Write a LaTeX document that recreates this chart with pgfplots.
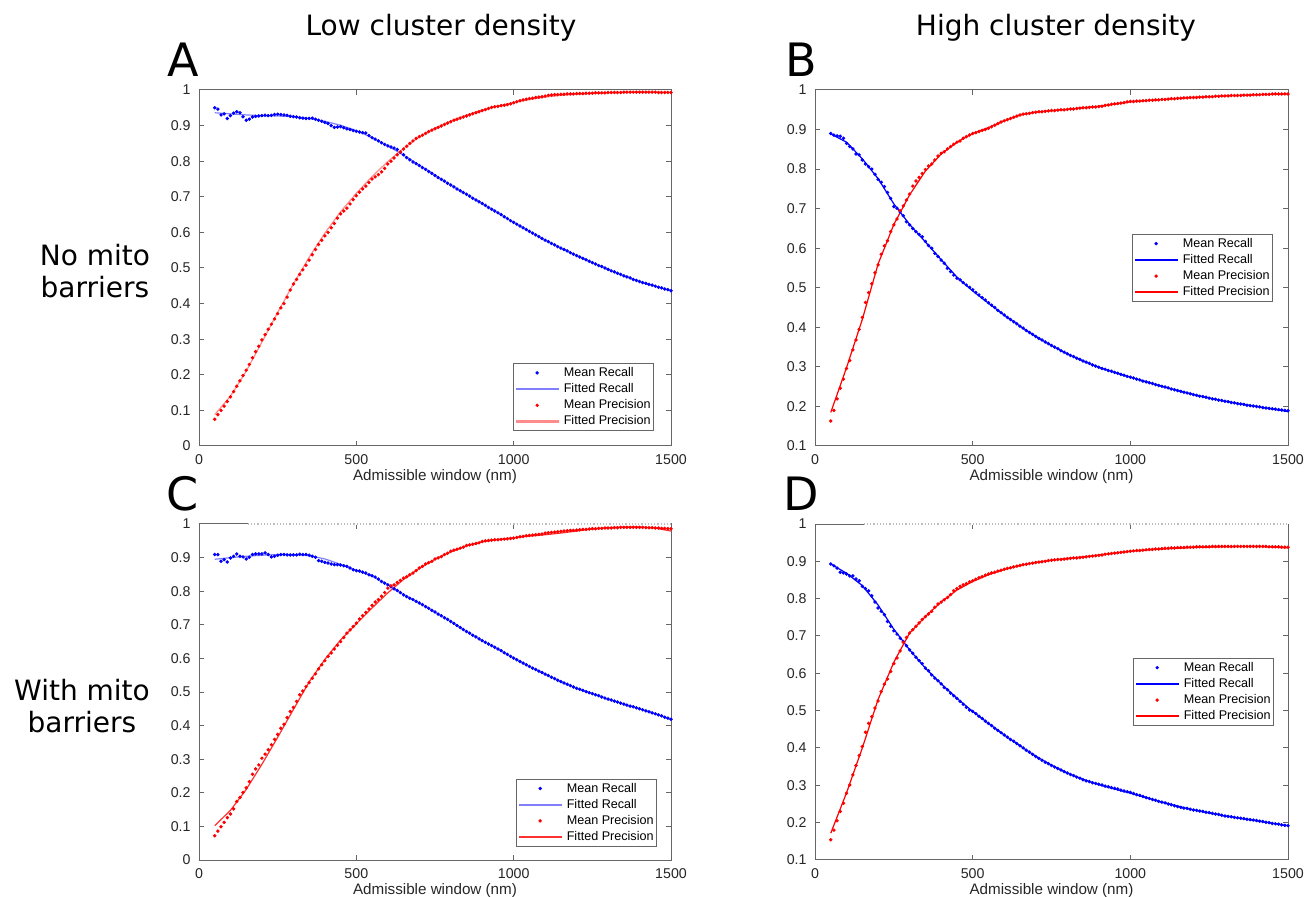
\documentclass[border=0pt]{standalone}
\usepackage{fontspec}
\setmainfont{Liberation Sans}
\newfontfamily\dejavu{DejaVu Sans}
\usepackage{pgfplots}
\usepackage{pgfplotstable}
\pgfplotsset{compat=1.18}

\definecolor{fitblue}{RGB}{0,0,255}
\definecolor{fitred}{RGB}{255,0,0}
\definecolor{liteblue}{RGB}{128,128,255}
\definecolor{litered}{RGB}{255,140,140}
\definecolor{midred}{RGB}{255,50,50}

% panel A: low density, no barriers
\pgfplotstableread{
x rm pm
50 0.950 0.075
60 0.946 0.088
70 0.930 0.100
80 0.933 0.112
90 0.920 0.125
100 0.928 0.138
110 0.935 0.153
120 0.939 0.168
130 0.936 0.183
140 0.925 0.198
150 0.915 0.213
160 0.918 0.229
170 0.924 0.248
180 0.926 0.265
190 0.927 0.280
200 0.928 0.298
210 0.929 0.313
220 0.928 0.328
230 0.929 0.342
240 0.931 0.357
250 0.932 0.372
260 0.931 0.388
270 0.930 0.400
280 0.929 0.418
290 0.926 0.438
300 0.925 0.455
310 0.924 0.468
320 0.922 0.482
330 0.921 0.495
340 0.920 0.508
350 0.920 0.522
360 0.921 0.537
370 0.918 0.552
380 0.915 0.566
390 0.912 0.578
400 0.909 0.590
410 0.906 0.600
420 0.900 0.613
430 0.895 0.625
440 0.896 0.640
450 0.897 0.652
460 0.894 0.660
470 0.891 0.668
480 0.889 0.680
490 0.886 0.692
500 0.884 0.703
510 0.882 0.713
520 0.880 0.722
530 0.879 0.730
540 0.872 0.740
550 0.866 0.750
560 0.862 0.756
570 0.857 0.762
580 0.852 0.770
590 0.847 0.780
600 0.843 0.792
610 0.840 0.800
620 0.837 0.809
630 0.833 0.818
640 0.825 0.826
650 0.818 0.834
660 0.810 0.842
670 0.804 0.850
680 0.798 0.857
690 0.793 0.864
700 0.788 0.869
710 0.782 0.873
720 0.777 0.878
730 0.771 0.883
740 0.766 0.887
750 0.760 0.891
760 0.754 0.895
770 0.749 0.899
780 0.744 0.903
790 0.738 0.907
800 0.733 0.911
810 0.728 0.915
820 0.722 0.918
830 0.717 0.921
840 0.712 0.924
850 0.707 0.927
860 0.702 0.930
870 0.696 0.933
880 0.691 0.936
890 0.686 0.939
900 0.681 0.942
910 0.676 0.945
920 0.670 0.948
930 0.665 0.951
940 0.660 0.953
950 0.655 0.954
960 0.650 0.956
970 0.644 0.957
980 0.639 0.959
990 0.633 0.961
1000 0.628 0.964
1010 0.623 0.967
1020 0.618 0.970
1030 0.613 0.972
1040 0.608 0.974
1050 0.603 0.976
1060 0.598 0.977
1070 0.593 0.979
1080 0.588 0.980
1090 0.583 0.981
1100 0.578 0.983
1110 0.574 0.985
1120 0.569 0.986
1130 0.565 0.987
1140 0.560 0.987
1150 0.556 0.988
1160 0.552 0.988
1170 0.548 0.989
1180 0.543 0.989
1190 0.539 0.989
1200 0.535 0.990
1210 0.531 0.990
1220 0.527 0.990
1230 0.523 0.991
1240 0.519 0.991
1250 0.515 0.991
1260 0.511 0.992
1270 0.507 0.992
1280 0.504 0.992
1290 0.500 0.992
1300 0.496 0.993
1310 0.492 0.993
1320 0.489 0.993
1330 0.485 0.993
1340 0.482 0.993
1350 0.478 0.994
1360 0.475 0.994
1370 0.472 0.994
1380 0.468 0.994
1390 0.465 0.994
1400 0.462 0.994
1410 0.459 0.994
1420 0.457 0.994
1430 0.454 0.994
1440 0.452 0.994
1450 0.449 0.994
1460 0.446 0.993
1470 0.444 0.993
1480 0.441 0.993
1490 0.439 0.993
1500 0.436 0.993
}\Atab
\pgfplotstableread{
x rf pf
50 0.936 0.088
100 0.933 0.140
150 0.930 0.210
200 0.928 0.292
250 0.927 0.375
300 0.925 0.455
350 0.920 0.530
400 0.912 0.598
450 0.901 0.658
500 0.886 0.710
550 0.866 0.757
600 0.843 0.799
650 0.817 0.836
700 0.789 0.868
750 0.761 0.893
800 0.733 0.913
850 0.707 0.930
900 0.681 0.944
950 0.655 0.955
1000 0.628 0.965
1050 0.603 0.973
1100 0.578 0.980
1150 0.556 0.985
1200 0.535 0.988
1250 0.515 0.990
1300 0.496 0.992
1350 0.478 0.993
1400 0.462 0.994
1450 0.449 0.994
1500 0.436 0.994
}\Afit

% panel B: high density, no barriers
\pgfplotstableread{
x rm pm
50 0.890 0.163
60 0.886 0.190
70 0.884 0.219
80 0.883 0.246
90 0.878 0.269
100 0.865 0.296
110 0.857 0.316
120 0.851 0.343
130 0.838 0.368
140 0.836 0.395
150 0.823 0.425
160 0.813 0.463
170 0.806 0.488
180 0.800 0.510
190 0.787 0.538
200 0.774 0.558
210 0.767 0.585
220 0.756 0.606
230 0.741 0.619
240 0.726 0.642
250 0.705 0.659
260 0.701 0.674
270 0.692 0.695
280 0.682 0.707
290 0.667 0.722
300 0.659 0.737
310 0.650 0.757
320 0.642 0.770
330 0.635 0.779
340 0.629 0.789
350 0.617 0.799
360 0.607 0.808
370 0.600 0.813
380 0.587 0.823
390 0.579 0.833
400 0.570 0.840
410 0.562 0.844
420 0.549 0.851
430 0.541 0.857
440 0.532 0.863
450 0.524 0.868
460 0.520 0.871
470 0.513 0.878
480 0.507 0.882
490 0.501 0.886
500 0.495 0.890
510 0.488 0.892
520 0.482 0.895
530 0.475 0.898
540 0.469 0.900
550 0.462 0.903
560 0.456 0.907
570 0.450 0.911
580 0.443 0.915
590 0.437 0.919
600 0.431 0.922
610 0.425 0.925
620 0.420 0.928
630 0.414 0.931
640 0.409 0.934
650 0.403 0.937
660 0.398 0.939
670 0.392 0.940
680 0.387 0.941
690 0.382 0.943
700 0.377 0.944
710 0.372 0.945
720 0.368 0.945
730 0.363 0.946
740 0.359 0.947
750 0.354 0.948
760 0.350 0.948
770 0.346 0.949
780 0.341 0.950
790 0.337 0.950
800 0.333 0.951
810 0.329 0.952
820 0.326 0.952
830 0.322 0.953
840 0.319 0.954
850 0.315 0.955
860 0.312 0.955
870 0.309 0.956
880 0.305 0.957
890 0.302 0.957
900 0.299 0.958
910 0.296 0.959
920 0.294 0.961
930 0.291 0.962
940 0.289 0.964
950 0.286 0.965
960 0.284 0.966
970 0.281 0.967
980 0.279 0.968
990 0.276 0.970
1000 0.274 0.971
1010 0.272 0.971
1020 0.269 0.972
1030 0.267 0.972
1040 0.264 0.973
1050 0.262 0.973
1060 0.260 0.974
1070 0.258 0.974
1080 0.255 0.975
1090 0.253 0.975
1100 0.251 0.976
1110 0.249 0.976
1120 0.247 0.977
1130 0.244 0.978
1140 0.242 0.978
1150 0.240 0.979
1160 0.238 0.979
1170 0.236 0.980
1180 0.234 0.980
1190 0.232 0.981
1200 0.230 0.981
1210 0.228 0.981
1220 0.226 0.982
1230 0.225 0.982
1240 0.223 0.983
1250 0.221 0.983
1260 0.219 0.983
1270 0.218 0.984
1280 0.216 0.984
1290 0.215 0.985
1300 0.213 0.985
1310 0.212 0.985
1320 0.210 0.986
1330 0.209 0.986
1340 0.207 0.986
1350 0.206 0.986
1360 0.205 0.987
1370 0.203 0.987
1380 0.202 0.987
1390 0.201 0.988
1400 0.200 0.988
1410 0.199 0.988
1420 0.197 0.989
1430 0.196 0.989
1440 0.195 0.989
1450 0.194 0.990
1460 0.193 0.990
1470 0.192 0.990
1480 0.191 0.990
1490 0.190 0.990
1500 0.189 0.990
}\Btab
\pgfplotstableread{
x rf pf
50 0.889 0.185
100 0.868 0.298
150 0.826 0.420
200 0.776 0.560
250 0.712 0.660
300 0.660 0.735
350 0.616 0.795
400 0.571 0.838
450 0.527 0.868
500 0.492 0.890
550 0.461 0.905
600 0.431 0.922
650 0.403 0.937
700 0.377 0.944
750 0.354 0.948
800 0.333 0.951
850 0.315 0.955
900 0.299 0.959
950 0.286 0.964
1000 0.274 0.970
1100 0.251 0.976
1200 0.230 0.981
1300 0.213 0.985
1400 0.200 0.988
1500 0.187 0.990
}\Bfit

% panel C: low density, with barriers
\pgfplotstableread{
x rm pm
50 0.909 0.072
60 0.909 0.086
70 0.889 0.099
80 0.894 0.112
90 0.887 0.126
100 0.899 0.137
110 0.904 0.152
120 0.911 0.174
130 0.904 0.186
140 0.902 0.201
150 0.896 0.215
160 0.901 0.233
170 0.909 0.255
180 0.911 0.271
190 0.911 0.283
200 0.911 0.303
210 0.914 0.315
220 0.909 0.328
230 0.902 0.343
240 0.904 0.359
250 0.907 0.374
260 0.909 0.392
270 0.909 0.404
280 0.908 0.424
290 0.908 0.442
300 0.908 0.454
310 0.908 0.472
320 0.910 0.492
330 0.909 0.503
340 0.909 0.516
350 0.907 0.528
360 0.904 0.541
370 0.901 0.554
380 0.891 0.569
390 0.889 0.581
400 0.886 0.593
410 0.884 0.606
420 0.881 0.616
430 0.879 0.628
440 0.879 0.639
450 0.878 0.650
460 0.876 0.662
470 0.874 0.675
480 0.869 0.685
490 0.864 0.695
500 0.861 0.705
510 0.860 0.717
520 0.857 0.727
530 0.854 0.737
540 0.849 0.747
550 0.846 0.758
560 0.842 0.768
570 0.836 0.775
580 0.829 0.785
590 0.824 0.796
600 0.819 0.809
610 0.813 0.816
620 0.807 0.819
630 0.802 0.826
640 0.796 0.832
650 0.789 0.839
660 0.784 0.843
670 0.779 0.849
680 0.775 0.854
690 0.770 0.861
700 0.765 0.869
710 0.760 0.874
720 0.754 0.881
730 0.749 0.885
740 0.743 0.889
750 0.738 0.896
760 0.732 0.899
770 0.727 0.903
780 0.721 0.909
790 0.716 0.913
800 0.710 0.919
810 0.704 0.922
820 0.698 0.925
830 0.692 0.928
840 0.686 0.931
850 0.680 0.936
860 0.675 0.938
870 0.669 0.940
880 0.664 0.942
890 0.658 0.944
900 0.653 0.948
910 0.648 0.950
920 0.643 0.951
930 0.638 0.952
940 0.633 0.953
950 0.628 0.953
960 0.623 0.954
970 0.617 0.955
980 0.612 0.956
990 0.606 0.957
1000 0.601 0.958
1010 0.596 0.960
1020 0.591 0.962
1030 0.586 0.963
1040 0.581 0.965
1050 0.576 0.966
1060 0.571 0.967
1070 0.567 0.968
1080 0.562 0.969
1090 0.558 0.970
1100 0.553 0.973
1110 0.549 0.974
1120 0.544 0.975
1130 0.540 0.976
1140 0.535 0.977
1150 0.531 0.978
1160 0.527 0.979
1170 0.523 0.980
1180 0.519 0.981
1190 0.515 0.981
1200 0.511 0.982
1210 0.508 0.983
1220 0.505 0.984
1230 0.501 0.984
1240 0.498 0.985
1250 0.495 0.986
1260 0.492 0.986
1270 0.489 0.987
1280 0.485 0.987
1290 0.482 0.988
1300 0.479 0.988
1310 0.476 0.988
1320 0.473 0.989
1330 0.470 0.989
1340 0.467 0.990
1350 0.464 0.990
1360 0.461 0.990
1370 0.458 0.990
1380 0.456 0.990
1390 0.453 0.990
1400 0.450 0.990
1410 0.447 0.990
1420 0.444 0.989
1430 0.441 0.989
1440 0.438 0.989
1450 0.435 0.988
1460 0.432 0.988
1470 0.429 0.987
1480 0.425 0.987
1490 0.422 0.986
1500 0.419 0.986
}\Ctab
\pgfplotstableread{
x rf pf
50 0.895 0.102
100 0.900 0.148
150 0.904 0.210
200 0.907 0.285
250 0.909 0.365
300 0.909 0.448
350 0.906 0.530
400 0.896 0.597
450 0.880 0.655
500 0.862 0.703
550 0.845 0.750
600 0.820 0.795
650 0.790 0.835
700 0.765 0.868
750 0.738 0.895
800 0.710 0.917
850 0.680 0.935
900 0.653 0.947
950 0.628 0.954
1000 0.601 0.959
1050 0.576 0.964
1100 0.553 0.968
1150 0.531 0.973
1200 0.511 0.979
1250 0.495 0.985
1300 0.479 0.989
1350 0.464 0.991
1400 0.450 0.991
1450 0.435 0.988
1500 0.419 0.979
}\Cfit

% panel D: high density, with barriers
\pgfplotstableread{
x rm pm
50 0.893 0.154
60 0.888 0.180
70 0.882 0.205
80 0.871 0.230
90 0.869 0.252
100 0.866 0.279
110 0.861 0.301
120 0.861 0.328
130 0.853 0.353
140 0.848 0.380
150 0.833 0.404
160 0.827 0.442
170 0.821 0.466
180 0.808 0.484
190 0.791 0.507
200 0.775 0.526
210 0.766 0.551
220 0.757 0.571
230 0.739 0.585
240 0.726 0.605
250 0.714 0.626
260 0.705 0.641
270 0.694 0.660
280 0.685 0.683
290 0.674 0.696
300 0.663 0.708
310 0.654 0.717
320 0.643 0.726
330 0.634 0.735
340 0.626 0.744
350 0.614 0.752
360 0.607 0.759
370 0.596 0.766
380 0.587 0.777
390 0.580 0.786
400 0.572 0.791
410 0.562 0.797
420 0.556 0.803
430 0.547 0.811
440 0.540 0.821
450 0.533 0.827
460 0.525 0.833
470 0.517 0.837
480 0.509 0.840
490 0.502 0.845
500 0.498 0.848
510 0.492 0.852
520 0.485 0.856
530 0.479 0.859
540 0.472 0.863
550 0.466 0.866
560 0.460 0.869
570 0.453 0.871
580 0.447 0.874
590 0.441 0.876
600 0.435 0.879
610 0.429 0.881
620 0.423 0.883
630 0.418 0.885
640 0.412 0.887
650 0.406 0.889
660 0.400 0.891
670 0.394 0.892
680 0.389 0.894
690 0.383 0.895
700 0.377 0.897
710 0.372 0.898
720 0.367 0.899
730 0.362 0.900
740 0.358 0.902
750 0.353 0.903
760 0.349 0.904
770 0.345 0.905
780 0.341 0.905
790 0.337 0.906
800 0.333 0.907
810 0.329 0.908
820 0.326 0.909
830 0.322 0.909
840 0.319 0.910
850 0.315 0.911
860 0.312 0.912
870 0.310 0.913
880 0.307 0.914
890 0.305 0.915
900 0.303 0.916
910 0.301 0.917
920 0.298 0.919
930 0.296 0.920
940 0.294 0.921
950 0.292 0.922
960 0.290 0.923
970 0.287 0.924
980 0.285 0.925
990 0.283 0.926
1000 0.281 0.927
1010 0.278 0.928
1020 0.275 0.929
1030 0.273 0.929
1040 0.270 0.930
1050 0.267 0.931
1060 0.265 0.932
1070 0.262 0.932
1080 0.260 0.933
1090 0.257 0.933
1100 0.255 0.934
1110 0.253 0.935
1120 0.250 0.935
1130 0.248 0.936
1140 0.245 0.936
1150 0.243 0.937
1160 0.241 0.937
1170 0.239 0.937
1180 0.238 0.938
1190 0.236 0.938
1200 0.234 0.938
1210 0.233 0.939
1220 0.231 0.939
1230 0.230 0.939
1240 0.228 0.939
1250 0.227 0.939
1260 0.225 0.940
1270 0.223 0.940
1280 0.222 0.940
1290 0.220 0.940
1300 0.218 0.940
1310 0.217 0.940
1320 0.216 0.940
1330 0.214 0.940
1340 0.213 0.940
1350 0.212 0.940
1360 0.211 0.940
1370 0.209 0.940
1380 0.208 0.940
1390 0.207 0.940
1400 0.206 0.940
1410 0.204 0.940
1420 0.203 0.940
1430 0.201 0.940
1440 0.200 0.939
1450 0.198 0.939
1460 0.197 0.939
1470 0.196 0.939
1480 0.194 0.938
1490 0.193 0.938
1500 0.192 0.938
}\Dtab
\pgfplotstableread{
x rf pf
50 0.893 0.172
100 0.868 0.280
150 0.835 0.400
200 0.783 0.530
250 0.718 0.630
300 0.663 0.708
350 0.614 0.752
400 0.572 0.791
450 0.533 0.823
500 0.498 0.846
550 0.466 0.864
600 0.435 0.878
650 0.406 0.889
700 0.378 0.897
750 0.354 0.903
800 0.333 0.908
850 0.316 0.912
900 0.302 0.917
950 0.290 0.922
1000 0.279 0.927
1100 0.255 0.933
1200 0.234 0.937
1300 0.218 0.939
1400 0.205 0.940
1500 0.192 0.936
}\Dfit

\pgfplotsset{
  panel/.style={scale only axis, width=236pt, xmin=0, xmax=1500, clip=false,
    xtick={0,500,1000,1500}, xticklabels={0,500,1000,1500},
    tick align=inside, tick pos=both, major tick length=2.5pt,
    axis line style={black!60, line width=0.5pt},
    major tick style={black!60, line width=0.5pt},
    tick label style={font=\fontsize{7.1}{8}\selectfont, text=black!85},
    xticklabel style={anchor=center, yshift=-7pt},
    yticklabel style={xshift=-0.7pt},
    every axis x label/.style={at={(axis description cs:0.5,0)}, anchor=center,
      yshift=-15.5pt, font=\fontsize{7.6}{9}\selectfont, text=black!85},
    xlabel={Admissible window (nm)},
    legend cell align=left,
    legend style={font=\fontsize{6.3}{7}\selectfont,
      inner xsep=1pt, inner ysep=0.8pt, row sep=0.6pt, column sep=2pt,
      nodes={inner sep=0.5pt, text height=5pt, text depth=1.5pt}},
  },
  zeroy/.style={ymin=0, ymax=1, ytick={0,0.1,0.2,0.3,0.4,0.5,0.6,0.7,0.8,0.9,1},
    yticklabels={0,0.1,0.2,0.3,0.4,0.5,0.6,0.7,0.8,0.9,1}},
  oney/.style={ymin=0.1, ymax=1, ytick={0.1,0.2,0.3,0.4,0.5,0.6,0.7,0.8,0.9,1},
    yticklabels={0.1,0.2,0.3,0.4,0.5,0.6,0.7,0.8,0.9,1}},
  dots/.style={only marks, mark=*, mark size=0.65pt, color=#1,
    legend image code/.code={\fill[#1] (10.5pt,0pt) circle[radius=0.65pt];}},
  fitline/.style={mark=none, line width=0.6pt, color=#1,
    legend image code/.code={\fill[#1] (0pt,-0.3pt) rectangle (21pt,0.3pt);}},
}

\begin{document}
\begin{tikzpicture}
\useasboundingbox (0,0) rectangle (658pt,-448.5pt);

\begin{axis}[panel, zeroy, height=178pt, at={(99.5pt,-45pt)}, anchor=north west,
  legend style={draw=black!60, at={(1,0)}, anchor=south east, xshift=-8.5pt, yshift=7.5pt}]
\addplot[dots=fitblue] table[x=x, y=rm] \Atab;
\addlegendentry{Mean Recall}
\addplot[fitline=liteblue] table[x=x, y=rf] \Afit;
\addlegendentry{Fitted Recall}
\addplot[dots=fitred] table[x=x, y=pm] \Atab;
\addlegendentry{Mean Precision}
\addplot[fitline=litered] table[x=x, y=pf] \Afit;
\addlegendentry{Fitted Precision}
\end{axis}

\begin{axis}[panel, oney, height=178pt, width=236.5pt, at={(407.5pt,-45pt)}, anchor=north west,
  legend style={draw=black!60, at={(1,0.5)}, anchor=east, xshift=-7.5pt}]
\addplot[dots=fitblue] table[x=x, y=rm] \Btab;
\addlegendentry{Mean Recall}
\addplot[fitline=fitblue] table[x=x, y=rf] \Bfit;
\addlegendentry{Fitted Recall}
\addplot[dots=fitred] table[x=x, y=pm] \Btab;
\addlegendentry{Mean Precision}
\addplot[fitline=fitred] table[x=x, y=pf] \Bfit;
\addlegendentry{Fitted Precision}
\end{axis}

\begin{axis}[panel, zeroy, height=168pt, at={(99.5pt,-262pt)}, anchor=north west,
  legend style={draw=black!60, at={(1,0)}, anchor=south east, xshift=-7pt, yshift=6.7pt}]
\addplot[white, line width=1pt, forget plot] coordinates {(155,1) (1500,1)};
\addplot[black!25, densely dotted, line width=0.6pt, forget plot] coordinates {(155,1) (1500,1)};
\addplot[dots=fitblue] table[x=x, y=rm] \Ctab;
\addlegendentry{Mean Recall}
\addplot[fitline=liteblue] table[x=x, y=rf] \Cfit;
\addlegendentry{Fitted Recall}
\addplot[dots=fitred] table[x=x, y=pm] \Ctab;
\addlegendentry{Mean Precision}
\addplot[fitline=midred] table[x=x, y=pf] \Cfit;
\addlegendentry{Fitted Precision}
\end{axis}

\begin{axis}[panel, oney, height=168pt, width=236.5pt, at={(407.5pt,-262pt)}, anchor=north west,
  legend style={draw=black!60, at={(1,0.5)}, anchor=east, xshift=-7pt}]
\addplot[white, line width=1pt, forget plot] coordinates {(155,1) (1500,1)};
\addplot[black!25, densely dotted, line width=0.6pt, forget plot] coordinates {(155,1) (1500,1)};
\addplot[dots=fitblue] table[x=x, y=rm] \Dtab;
\addlegendentry{Mean Recall}
\addplot[fitline=fitblue] table[x=x, y=rf] \Dfit;
\addlegendentry{Fitted Recall}
\addplot[dots=fitred] table[x=x, y=pm] \Dtab;
\addlegendentry{Mean Precision}
\addplot[fitline=fitred] table[x=x, y=pf] \Dfit;
\addlegendentry{Fitted Precision}
\end{axis}

\begin{scope}[every node/.style={font=\dejavu\fontsize{14}{16}\selectfont, align=center}]
\node at (220.5pt,-14pt) {Low cluster density};
\node at (528pt,-14pt) {High cluster density};
\node at (47.5pt,-135.5pt) {No mito\\barriers};
\node at (41pt,-353pt) {With mito\\barriers};
\end{scope}
\begin{scope}[every node/.style={font=\dejavu\fontsize{23}{26}\selectfont}]
\node at (91.5pt,-30pt) {A};
\node at (400.5pt,-30pt) {B};
\node at (91.5pt,-247pt) {C};
\node at (400.5pt,-247pt) {D};
\end{scope}
\end{tikzpicture}
\end{document}
